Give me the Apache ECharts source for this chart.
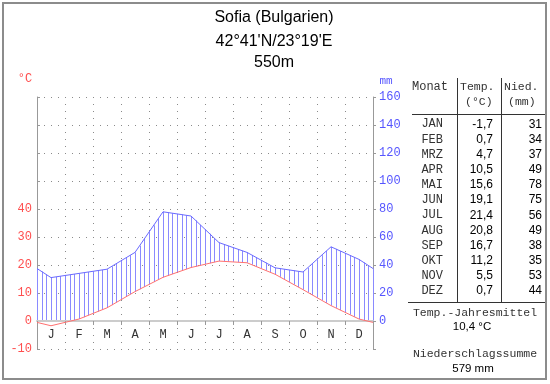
<!DOCTYPE html>
<html>
<head>
<meta charset="utf-8">
<script src="https://cdn.jsdelivr.net/npm/echarts@6/dist/echarts.min.js"></script>
<style>
html,body{margin:0;padding:0;background:#fff;}
#chart{width:550px;height:384px;}
</style>
</head>
<body>
<div id="chart"></div>
<script>
// ---- data ----
const monthLetters = ['J','F','M','A','M','J','J','A','S','O','N','D'];
const monthAbbr = ['JAN','FEB','MRZ','APR','MAI','JUN','JUL','AUG','SEP','OKT','NOV','DEZ'];
const temperature = [-1.7, 0.7, 4.7, 10.5, 15.6, 19.1, 21.4, 20.8, 16.7, 11.2, 5.5, 0.7];
const precipitation = [31, 34, 37, 49, 78, 75, 56, 49, 38, 35, 53, 44];
const edgeTemperature = -0.5;   // value at the left/right edges of the diagram
const edgePrecipitation = 37.5; // value at the left/right edges of the diagram
const tempTickLabels = [-10, 0, 10, 20, 30, 40];
const precipTickLabels = [0, 20, 40, 60, 80, 100, 120, 140, 160];
const titleLines = ['Sofia (Bulgarien)', "42°41'N/23°19'E", '550m'];

// ---- helpers ----
const MONO = '"Liberation Mono", "DejaVu Sans Mono", monospace';
const SANS = '"Liberation Sans", Arial, sans-serif';
const RED = '#ff4f4f', BLUE = '#5555ff';
const mmPerDegree = 2; // Walter-Lieth scale: 10 °C = 20 mm

const xs = [0].concat(temperature.map((_, i) => i + 0.5), [12]);
const tSeries = [edgeTemperature].concat(temperature, [edgeTemperature]);
const pSeries = [edgePrecipitation].concat(precipitation, [edgePrecipitation]);
const tempData = xs.map((x, i) => [x, tSeries[i]]);
const precData = xs.map((x, i) => [x, pSeries[i]]);

function interp(arr, x) {
  for (let i = 0; i < xs.length - 1; i++) {
    if (x >= xs[i] && x <= xs[i + 1]) {
      const f = (x - xs[i]) / (xs[i + 1] - xs[i]);
      return arr[i] + f * (arr[i + 1] - arr[i]);
    }
  }
  return arr[arr.length - 1];
}
const fmt = v => v.toFixed(1).replace('.', ',');
const meanT = temperature.reduce((a, b) => a + b, 0) / temperature.length;
const sumP = precipitation.reduce((a, b) => a + b, 0);

function renderHatch(params, api) {
  const children = [];
  const steps = 72;
  for (let k = 0; k <= steps; k++) {
    const x = k * 12 / steps;
    const t = interp(tSeries, x) * mmPerDegree;
    const p = interp(pSeries, x);
    if (p <= t) continue;
    const top = api.coord([x, p]);
    const bot = api.coord([x, Math.max(t, 0)]);
    const px = Math.round(top[0]) + 0.5;
    children.push({
      type: 'line',
      shape: { x1: px, y1: top[1], x2: px, y2: bot[1] },
      style: { stroke: '#8a8aff', lineWidth: 1 }
    });
  }
  return { type: 'group', children };
}

// ---- graphic (titles, table, frame) ----
const g = [];
g.push({ type: 'rect', shape: { x: 3, y: 3, width: 543, height: 376 },
  style: { fill: 'none', stroke: '#8c8c8c', lineWidth: 2 }, z: 10 });
const titleY = [18, 42, 63];
titleLines.forEach((t, i) => g.push({ type: 'text', x: 274, y: titleY[i],
  style: { text: t, font: '16px ' + SANS, fill: '#000', textAlign: 'center', textVerticalAlign: 'middle' } }));
g.push({ type: 'text', x: 25, y: 79, style: { text: '°C', font: '12px ' + MONO, fill: RED, textAlign: 'center', textVerticalAlign: 'middle' } });
g.push({ type: 'text', x: 386, y: 81, style: { text: 'mm', font: '11px ' + MONO, fill: BLUE, textAlign: 'center', textVerticalAlign: 'middle' } });

// table header
const hdr = (text, x, y, align, size) => g.push({ type: 'text', x, y,
  style: { text, font: (size || 12) + 'px ' + MONO, fill: '#333', textAlign: align, textVerticalAlign: 'middle' } });
hdr('Monat', 412, 87, 'left');
hdr('Temp.', 460, 87, 'left', 11.5);
hdr('(°C)', 465, 102, 'left', 11.5);
hdr('Nied.', 504, 87, 'left', 11.5);
hdr('(mm)', 508, 102, 'left', 11.5);
const line = (x1, y1, x2, y2) => g.push({ type: 'line', shape: { x1, y1, x2, y2 }, style: { stroke: '#333', lineWidth: 1 } });
line(412, 114.5, 546, 114.5);
line(408, 302.5, 546, 302.5);
line(457.5, 78, 457.5, 302);
line(501.5, 78, 501.5, 302);
monthAbbr.forEach((m, i) => {
  const y = 124.3 + i * 15.15;
  g.push({ type: 'text', x: 443, y, style: { text: m, font: '12px ' + MONO, fill: '#333', textAlign: 'right', textVerticalAlign: 'middle' } });
  g.push({ type: 'text', x: 493, y, style: { text: fmt(temperature[i]), font: '12px ' + SANS, fill: '#000', textAlign: 'right', textVerticalAlign: 'middle' } });
  g.push({ type: 'text', x: 542, y, style: { text: String(precipitation[i]), font: '12px ' + SANS, fill: '#000', textAlign: 'right', textVerticalAlign: 'middle' } });
});
g.push({ type: 'text', x: 475, y: 313, style: { text: 'Temp.-Jahresmittel', font: '11.5px ' + MONO, fill: '#333', textAlign: 'center', textVerticalAlign: 'middle' } });
g.push({ type: 'text', x: 472, y: 327, style: { text: fmt(meanT) + ' °C', font: '11.5px ' + SANS, fill: '#000', textAlign: 'center', textVerticalAlign: 'middle' } });
g.push({ type: 'text', x: 475, y: 354, style: { text: 'Niederschlagssumme', font: '11.5px ' + MONO, fill: '#333', textAlign: 'center', textVerticalAlign: 'middle' } });
g.push({ type: 'text', x: 473, y: 369, style: { text: sumP + ' mm', font: '11.5px ' + SANS, fill: '#000', textAlign: 'center', textVerticalAlign: 'middle' } });

const dotted = { color: '#8a8a8a', width: 1, type: [1, 6] };

const option = {
  animation: false,
  backgroundColor: '#fff',
  grid: { left: 37, right: 177, top: 97, bottom: 35, containLabel: false },
  xAxis: [
    { type: 'value', min: 0, max: 12, interval: 1, position: 'top',
      axisLine: { show: false }, axisTick: { show: false }, axisLabel: { show: false },
      splitLine: { show: true, lineStyle: dotted } },
    { type: 'category', data: monthLetters, boundaryGap: true, position: 'bottom', offset: -28, z: 3,
      axisLine: { show: true, onZero: false, lineStyle: { color: '#cccccc', width: 2 } },
      axisTick: { show: true, interval: 0, length: 4, lineStyle: { color: '#999' } },
      axisLabel: { show: true, interval: 0, margin: 8, color: '#333', fontFamily: MONO, fontSize: 12 },
      splitLine: { show: false } }
  ],
  yAxis: [
    { type: 'value', min: -10, max: 80, interval: 10, position: 'left',
      axisLine: { show: true, lineStyle: { color: '#999' } },
      axisTick: { show: true, inside: true, length: 3, lineStyle: { color: '#999' } },
      axisLabel: { margin: 5, color: RED, fontFamily: MONO, fontSize: 12,
        formatter: v => tempTickLabels.indexOf(v) >= 0 ? String(v) : '' },
      splitLine: { show: true, lineStyle: dotted } },
    { type: 'value', min: -20, max: 160, interval: 20, position: 'right',
      axisLine: { show: true, lineStyle: { color: '#999' } },
      axisTick: { show: true, inside: false, length: 3, lineStyle: { color: '#999' } },
      axisLabel: { margin: 6, color: BLUE, fontFamily: MONO, fontSize: 12,
        formatter: v => precipTickLabels.indexOf(v) >= 0 ? String(v) : '' },
      splitLine: { show: false } }
  ],
  series: [
    { type: 'custom', xAxisIndex: 0, yAxisIndex: 1, data: [[0, 0]], renderItem: renderHatch, z: 2, silent: true },
    { type: 'line', xAxisIndex: 0, yAxisIndex: 0, data: tempData, symbol: 'none', z: 4,
      lineStyle: { color: '#ff7070', width: 1 } },
    { type: 'line', xAxisIndex: 0, yAxisIndex: 1, data: precData, symbol: 'none', z: 4,
      lineStyle: { color: '#6a6aff', width: 1 } }
  ],
  graphic: g
};

const chart = echarts.init(document.getElementById('chart'), null, { renderer: 'canvas' });
chart.setOption(option);
</script>
</body>
</html>
